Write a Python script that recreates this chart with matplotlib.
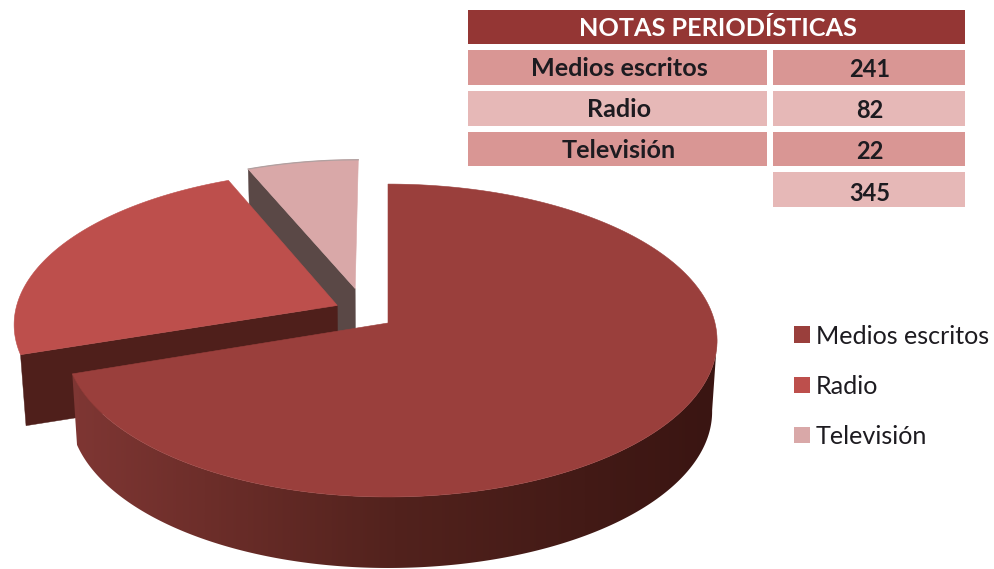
import numpy as np
import matplotlib
matplotlib.use("Agg")
import matplotlib.pyplot as plt
from matplotlib.patches import Polygon, Rectangle, Patch
from matplotlib.colors import LinearSegmentedColormap

# ---- data ----
categories = ["Medios escritos", "Radio", "Televisión"]
values = [241, 82, 22]
total = 345
table_title = "NOTAS PERIODÍSTICAS"

# ---- style ----
top_colors = ["#9a3f3c", "#bd4f4c", "#d9a8a8"]
wall_colors = ["#5a241f", "#4f1f1b", "#5a4846"]
explode = [(0.0, 0.0), (-0.157, 0.115), (-0.103, 0.2285)]
radius = [1.0, 0.993, 0.97]
left_scale = [0.982, 1.0, 1.0]
rim_cmap = LinearSegmentedColormap.from_list(
    "rim", [(0, "#7e3633"), (0.2, "#6d2e2a"), (0.5, "#52221d"), (0.8, "#431a16"), (1, "#3a1512")])

CX, CY, RX, RY, P, DEPTH, SHRINK = 388, 323, 327, 154.5, 0.112, 71, 0.985

fig = plt.figure(figsize=(9.95, 5.69), dpi=100)
ax = fig.add_axes([0, 0, 1, 1])
plt.rcParams["font.family"] = ["Lato", "DejaVu Sans"]


def project(X, Y, ls=1.0):
    X = np.asarray(X, float)
    k = 1 / (1 + P * np.asarray(Y))
    return CX + RX * np.where(X < 0, X * ls, X) * k, CY - RY * np.asarray(Y) * k


def lower(x, y):
    return CX + (np.asarray(x) - CX) * SHRINK, np.asarray(y) + DEPTH


def wedge(a0, a1, off, r, ls=1.0):
    a = np.radians(90 - np.linspace(a0, a1, 200))
    X = np.r_[off[0], off[0] + r * np.cos(a)]
    Y = np.r_[off[1], off[1] + r * np.sin(a)]
    return project(X, Y, ls)


def wall(xa, ya, xb, yb, color, z):
    xc, yc = lower(xb, yb)
    xd, yd = lower(xa, ya)
    ax.add_patch(Polygon([(xa, ya), (xb, yb), (xc, yc), (xd, yd)], closed=True,
                         fc=color, ec=color, lw=0.3, zorder=z))


ends = np.cumsum([0] + values) / sum(values) * 360

# slices are painted back to front: Televisión, Radio, Medios escritos
for i, z in ((2, 1), (1, 3), (0, 5)):
    x, y = wedge(ends[i], ends[i + 1], explode[i], radius[i], left_scale[i])
    if i == 0:
        # outer rim: a horizontal gradient clipped to the extruded band
        edge = np.radians(90 - np.linspace(96, ends[1], 300))
        ex, ey = project(radius[0] * np.cos(edge), radius[0] * np.sin(edge), left_scale[0])
        lx, ly = lower(ex, ey)
        band = Polygon(np.r_[np.c_[ex, ey], np.c_[lx, ly][::-1]], closed=True, fc="none", ec="none",
                       transform=ax.transData)
        ax.add_patch(band)
        img = ax.imshow(np.linspace(0, 1, 512)[None, :], cmap=rim_cmap, aspect="auto",
                        extent=(77, 712, 600, 300), zorder=z, interpolation="bilinear")
        img.set_clip_path(band)
        # gradient only covers its extent, so extend the ends with matching colours
        for xs, xe, c in ((60, 77, 0.0), (712, 725, 1.0)):
            r = ax.imshow([[c]], cmap=rim_cmap, vmin=0, vmax=1, aspect="auto",
                          extent=(xs, xe, 600, 300), zorder=z)
            r.set_clip_path(band)
    else:
        # radial wall starting at the slice's first corner
        wall(x[0], y[0], x[1], y[1], wall_colors[i], z)
    ax.add_patch(Polygon(np.c_[x, y], closed=True, fc=top_colors[i], ec=top_colors[i],
                         lw=0.4, zorder=z + 1))
    if i == 2:
        ax.plot(x[1:], y[1:], color="#b0a0a0", lw=0.9, zorder=z + 1)

ax.set_xlim(0, 995)
ax.set_ylim(569, 0)
ax.axis("off")

# ---- table ----
DARK, LIGHT, HEAD, INK = "#d99694", "#e6b8b7", "#943634", "#1d1b20"
ax.add_patch(Rectangle((468, 10), 497, 34, fc=HEAD, ec="none"))
ax.text(717.5, 28.5, table_title, color="white", fontsize=18.2, fontweight="bold",
        ha="center", va="center")
rows = [(50, 35), (91, 35), (132, 34)]
for n, ((top, h), cat, val) in enumerate(zip(rows, categories, values)):
    col = DARK if n % 2 == 0 else LIGHT
    ax.add_patch(Rectangle((468, top), 299, h, fc=col, ec="none"))
    ax.add_patch(Rectangle((773, top), 192, h, fc=col, ec="none"))
    ax.text(619, top + h / 2 + 1, cat, color=INK, fontsize=18.1, fontweight="bold", ha="center", va="center")
    ax.text(870, top + h / 2 + 2, str(val), color=INK, fontsize=17, fontweight="bold", ha="center", va="center")
ax.add_patch(Rectangle((773, 172), 192, 35, fc=LIGHT, ec="none"))
ax.text(870, 193, str(total), color=INK, fontsize=17, fontweight="bold", ha="center", va="center")

# ---- legend ----
handles = [Patch(fc=c, ec="none", label=l) for c, l in zip(top_colors, categories)]
ax.legend(handles=handles, loc="upper left", bbox_to_anchor=(794 / 995, 1 - 324.5 / 569),
          bbox_transform=fig.transFigure, frameon=False, fontsize=18.1, borderpad=0, borderaxespad=0,
          handlelength=0.636, handleheight=0.636, handletextpad=0.24, labelspacing=1.08,
          labelcolor="#1d1b20")

fig.savefig("out.png", dpi=100)
